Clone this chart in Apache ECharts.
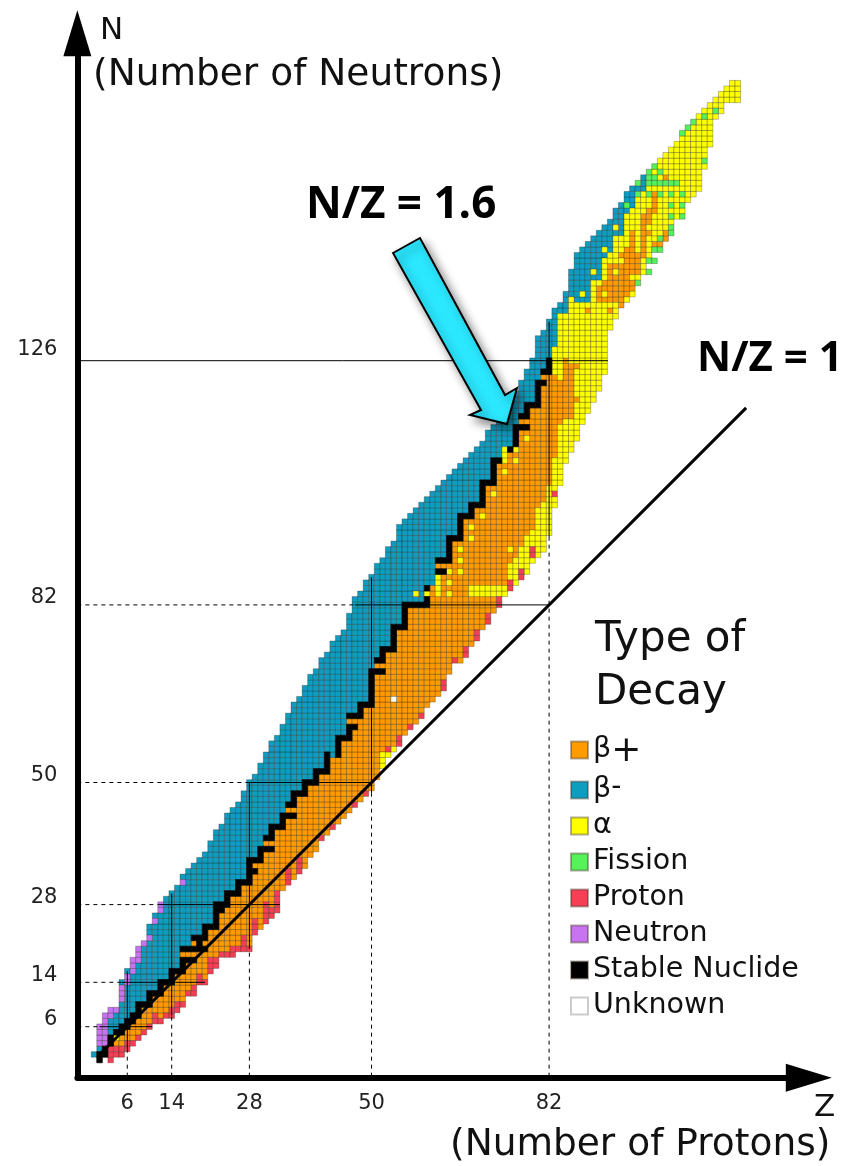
<!DOCTYPE html>
<html><head><meta charset="utf-8">
<style>html,body{margin:0;padding:0;background:#fff}#c{width:851px;height:1166px}</style>
<script src="https://cdn.jsdelivr.net/npm/echarts@6/dist/echarts.min.js"></script>
</head><body><div id="c"></div>
<script>
// Highest and lowest N of the chart in each column, index = Z (0..116)
const nTop = [1,6,8,9,9,14,16,18,20,21,24,26,28,29,30,31,33,34,35,36,37,39,41,42,44,45,46,48,50,51,53,55,57,58,60,62,64,65,67,69,70,72,73,75,76,77,80,83,84,86,87,89,90,92,93,96,97,98,99,100,101,102,103,104,105,106,107,108,109,110,111,113,114,116,117,119,120,122,124,126,130,131,133,135,136,138,142,145,146,147,148,149,150,151,153,154,156,157,158,159,160,161,162,163,164,165,167,168,169,170,171,172,173,174,175,176,176];
const nBottom = [1,0,1,0,1,1,2,3,4,5,
 6,7,7,8,8,9,10,12,12,14,
 14,16,17,19,19,19,20,20,20,23,
 24,25,26,27,31,32,33,34,35,37,
 38,40,41,42,43,44,45,46,47,48,
 49,51,53,55,56,57,59,60,61,62,
 64,65,66,67,70,72,72,73,75,76,
 78,79,81,82,84,85,86,87,88,90,
 91,92,95,100,104,108,110,112,115,117,
 119,121,124,132,134,136,137,138,141,142,
 144,146,148,150,151,152,153,155,156,157,
 161,165,170,171,173,173,173];
// Highest N below the beta-minus region in each column
const betaSplit = [0,1,2,4,5,6,7,8,10,10,12,12,14,14,16,16,20,20,22,22,24,24,28,28,30,30,32,32,36,36,38,40,42,42,44,46,48,48,50,50,52,52,55,54,58,58,62,62,64,64,70,72,74,74,78,78,82,82,82,82,85,85,90,90,94,94,98,98,100,100,104,104,108,108,110,110,114,116,118,118,122,124,126,128,134,134,136,136,136,136,140,140,144,145,148,148,152,153,155,156,999,999,999,999,999,999,999,999,999,999,999,999,999,999,999,999,999];
// [Z, first N, last N]
const stableRuns = [[1,0,1],[2,1,2],[3,3,4],[4,5,5],[5,5,6],[6,6,7],[7,7,8],[8,8,10],[9,10,10],[10,10,12],[11,12,12],[12,12,14],[13,14,14],[14,14,16],[15,16,16],[16,16,18],[16,20,20],[17,18,18],[17,20,20],[18,18,18],[18,20,20],[18,22,22],[19,20,22],[20,20,20],[20,22,24],[21,24,24],[22,24,28],[23,27,28],[24,28,30],[25,30,30],[26,30,32],[27,32,32],[28,32,36],[29,34,34],[29,36,36],[30,36,38],[31,38,38],[31,40,40],[32,38,38],[32,40,42],[33,42,42],[34,42,44],[35,44,44],[35,46,46],[36,44,44],[36,46,48],[37,48,48],[38,48,50],[39,50,50],[40,50,52],[41,52,52],[42,52,55],[44,55,58],[45,58,58],[46,58,60],[47,60,60],[46,62,62],[47,62,62],[48,62,64],[49,64,64],[50,64,70],[51,70,70],[52,70,70],[51,72,72],[52,72,74],[53,74,74],[54,74,78],[55,78,78],[56,78,82],[57,82,82],[58,82,82],[59,82,82],[60,82,83],[60,85,85],[62,88,88],[63,88,88],[62,90,90],[63,90,90],[64,90,94],[65,94,94],[66,94,98],[67,98,98],[68,98,100],[69,100,100],[70,100,104],[71,104,104],[72,104,108],[73,108,108],[75,110,110],[76,111,114],[77,114,114],[78,114,114],[77,116,116],[78,116,118],[79,118,118],[80,118,122],[81,122,122],[81,124,124],[82,124,126]];
const neutronRuns = [[1,3,6],[2,3,8],[3,8,9],[4,9,9],[5,11,13],[6,14,15],[7,16,18],[8,18,20],[9,21,21],[10,22,22],[11,25,25],[12,27,28],[16,32,32]];
const protonRuns = [[3,0,2],[4,1,2],[5,1,2],[6,2,3],[7,3,3],[8,4,4],[9,5,5],[10,6,6],[11,7,8],[12,7,7],[13,8,8],[14,8,9],[15,9,10],[16,10,10],[17,12,12],[18,12,13],[19,14,15],[20,14,14],[21,16,18],[22,17,18],[23,19,19],[24,19,19],[25,19,20],[26,20,20],[27,20,22],[28,20,20],[29,23,25],[31,25,28],[32,26,27],[33,27,30],[35,32,34],[37,34,36],[41,40,40],[43,42,42],[47,46,46],[49,48,48],[53,56,56],[55,57,58],[57,60,60],[59,62,62],[63,67,68],[65,72,72],[67,73,74],[69,76,77],[71,79,80],[73,82,83],[75,85,86],[77,87,88],[79,91,92],[83,102,102]];
const alphaRuns = [[4,4,4],[52,53,55],[53,55,55],[54,56,56],[58,84,84],[60,84,84],[62,84,87],[64,84,84],[64,86,86],[64,88,88],[66,88,88],[66,90,90],[66,92,92],[68,84,85],[69,84,85],[70,84,85],[71,84,85],[72,84,85],[73,84,85],[74,84,85],[68,94,94],[68,96,96],[70,98,98],[72,102,102],[74,106,106],[74,108,110],[76,108,108],[76,110,110],[78,112,112],[75,87,89],[75,92,92],[76,86,90],[77,89,92],[78,88,94],[79,90,90],[79,93,95],[80,91,99],[81,92,100],[82,95,103],[86,137,137],[88,138,138],[90,142,142],[92,146,146],[94,150,150]];
const orangeRuns = [[83,109,123],[84,115,122],[85,116,126],[86,116,125],[87,119,119],[87,125,125],[89,135,135],[93,135,135],[91,137,139],[92,137,137],[92,139,140],[93,137,143],[94,137,141],[94,143,143],[95,136,143],[95,145,145],[96,138,146],[97,139,140],[97,142,149],[98,142,145],[99,145,152],[100,149,149],[100,151,153],[101,147,147],[101,153,156],[102,147,147],[103,148,149],[103,159,159]];
const fissionCells = [[110,170],[112,171],[108,169],[107,168],[106,167],[110,162],[100,160],[101,161],[102,160],[100,159],[101,159],[100,158],[101,158],[102,158],[103,158],[104,158],[105,158],[98,158],[98,156],[100,156],[102,156],[104,156],[106,156],[96,154],[104,154],[106,154],[104,152],[106,152],[104,150],[104,149],[102,148],[101,146],[102,146],[100,144],[101,144],[100,142],[98,140]];
const unknownCells = [[54,65]];
// Magic-number guides: [start, end] in the other axis
const magicNumbers = [6,14,28,50,82];
const yTicks = [6,14,28,50,82,126];
const vDashed = [[6,-3,2],[14,-3,8],[28,-3,20],[50,-3,48],[82,-3,94]];
const vSolid = [[6,2,16],[14,8,30],[28,20,50],[50,48,87],[82,94,133]];
const hDashed = [[6,-3,1],[14,-3,5],[28,-3,11.5],[50,-3,27.8],[82,-3,47]];
const hSolid = [[6,1,10.5],[14,5,20],[28,11.5,33.5],[50,27.8,50.3],[82,47,82],[126,-3,92.6]];
const ratioLine = [[1,1],[117.5,117.5]];
const legendNames = ['β+','β-','α','Fission','Proton','Neutron','Stable Nuclide','Unknown'];
const colors = {'β+':'#FF9A00','β-':'#0E9CC0','α':'#FFFF00','Fission':'#55F25A','Proton':'#F43F55','Neutron':'#C873F2','Stable Nuclide':'#000000','Unknown':'#FFFFFF'};

const grid = new Map();
const key=(z,n)=>z+'_'+n;
nTop.forEach((top,z)=>{
  for(let n=nBottom[z];n<=top;n++){
    const t = n>betaSplit[z] ? 'β-' : (z>=83 ? 'α' : 'β+');
    grid.set(key(z,n),[z,n,t]);
  }
});
const paint=(runs,t)=>runs.forEach(([z,a,b])=>{for(let n=a;n<=b;n++)grid.set(key(z,n),[z,n,t]);});
paint(neutronRuns,'Neutron');paint(alphaRuns,'α');paint(orangeRuns,'β+');paint(protonRuns,'Proton');
paint(fissionCells.map(c=>[c[0],c[1],c[1]]),'Fission');
paint(unknownCells.map(c=>[c[0],c[1],c[1]]),'Unknown');
paint(stableRuns,'Stable Nuclide');

const renderCell=(params,api)=>{
  const c=api.coord([api.value(0),api.value(1)]),s=api.size([1,1]);
  const col=api.visual('color');
  return {type:'rect',shape:{x:c[0]-s[0]/2,y:c[1]-s[1]/2,width:s[0],height:s[1]},
    style:{fill:col,stroke:col==='#000000'?'#000':'rgba(35,30,20,0.42)',lineWidth:0.7}};
};
const cellSeries=legendNames.map(name=>({
  name,type:'custom',renderItem:renderCell,coordinateSystem:'cartesian2d',clip:false,z:2,
  encode:{x:0,y:1},
  itemStyle:{color:colors[name],borderColor:name==='Unknown'?'#ccc':'rgba(60,50,30,.4)',borderWidth:name==='Unknown'?1.5:0.5},
  data:[...grid.values()].filter(d=>d[2]===name).map(d=>[d[0],d[1]])
}));
const seg=(data,type,w,z)=>({type:'line',silent:true,showSymbol:false,symbol:'none',z:z||3,clip:false,
  lineStyle:{color:'#000',width:w,type},data,animation:false});
const guideSeries=[
  ...vDashed.map(([z,a,b])=>seg([[z,a],[z,b]],[4,4],1)),
  ...vSolid.map(([z,a,b])=>seg([[z,a],[z,b]],'solid',1)),
  ...hDashed.map(([n,a,b])=>seg([[a,n],[b,n]],[4,4],1)),
  ...hSolid.map(([n,a,b])=>seg([[a,n],[b,n]],'solid',1)),
  seg(ratioLine,'solid',3,4)
];
const F='"DejaVu Sans"';
const txt=(text,x,y,size,extra)=>({type:'text',z:20,x,y,style:Object.assign({text,fontFamily:F,fontSize:size,fill:'#111',textAlign:'left',textVerticalAlign:'middle'},extra||{})});
const axisCommon=()=>({type:'value',splitLine:{show:false},
  axisLine:{onZero:false,show:true,symbol:['none','triangle'],symbolSize:[28,46],symbolOffset:[0,0],lineStyle:{color:'#000',width:6}},
  axisTick:{show:false},minorTick:{show:false}});
const chart=echarts.init(document.getElementById('c'),null,{renderer:'canvas'});
const xEnd=128.8,yEnd=185;
chart.setOption({
  animation:false,backgroundColor:'#fff',
  grid:{left:77.35,top:1060-5.55*yEnd,width:5.55*(xEnd+3),height:5.55*(yEnd+3.2),containLabel:false},
  xAxis:Object.assign(axisCommon(),{min:-3,max:xEnd,
    axisLabel:{customValues:magicNumbers,showMinLabel:true,margin:15,color:'#222',fontFamily:F,fontSize:21}}),
  yAxis:Object.assign(axisCommon(),{min:-3.2,max:yEnd,
    axisLabel:{customValues:yTicks,margin:20,color:'#222',fontFamily:F,fontSize:21,
      formatter:v=>v===126?'{b|'+v+'}':'{a|'+v+'}',
      rich:{a:{fontFamily:F,fontSize:21,color:'#222',padding:[0,0,14,0]},b:{fontFamily:F,fontSize:21,color:'#222',padding:[0,0,22,0]}}}}),
  legend:{data:legendNames,orient:'vertical',left:570,top:734,padding:0,itemWidth:17,itemHeight:17,itemGap:4,icon:'rect',
    selectedMode:false,
    formatter:n=>n==='β+'?'β{s|+}':n==='β-'?'β{t|-}':n,
    textStyle:{fontFamily:F,fontSize:28.5,color:'#111',lineHeight:32,padding:[0,0,0,0],
      rich:{s:{fontFamily:F,fontSize:36,verticalAlign:'top',lineHeight:14,color:'#111'},t:{fontFamily:F,fontSize:28,verticalAlign:'top',lineHeight:14,color:'#111'}}}},
  series:[...cellSeries,...guideSeries],
  graphic:[
    {type:'polygon',z:15,shape:{points:[[393,253],[420,238],[505,395],[517,388],[507,424],[470,415],[481,410]]},
     style:{fill:'#2BE8FF',stroke:'#000',lineWidth:2,lineJoin:'miter',shadowBlur:10,shadowColor:'rgba(0,0,0,0.45)',shadowOffsetX:4,shadowOffsetY:5}},
    txt('N',100,31,31),
    txt('(Number of Neutrons)',93,75,37.5),
    txt('Z',814,1108,31),
    txt('(Number of Protons)',450,1145,37.5),
    txt('N/Z = 1.6',306,205,44,{fontFamily:'"Open Sans"',fontWeight:'bold',fill:'#000'}),
    txt('N/Z = 1',697,359,42,{fontFamily:'"Open Sans"',fontWeight:'bold',fill:'#000'}),
    txt('Type of',595,640,42),
    txt('Decay',595,693,42)
  ]
});
</script></body></html>
